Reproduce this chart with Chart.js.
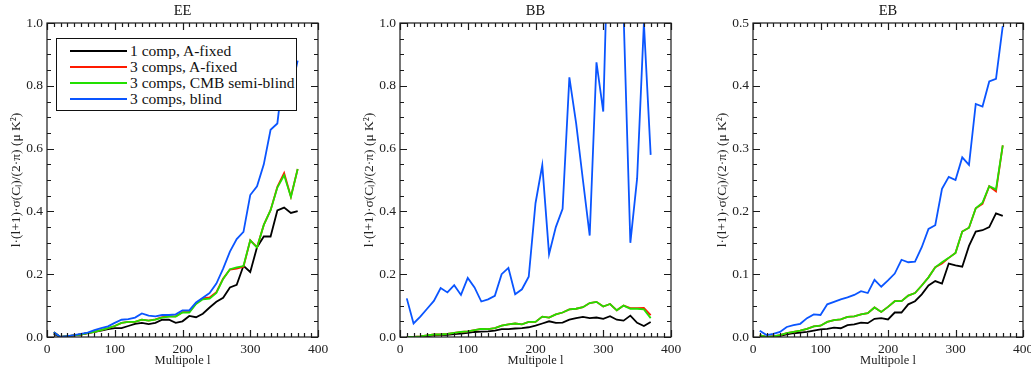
<!DOCTYPE html>
<html>
<head>
<meta charset="utf-8">
<script src="https://cdn.jsdelivr.net/npm/chart.js@4.4.1/dist/chart.umd.min.js"></script>
<style>
  body { margin: 0; background: #fff; }
  #wrap { position: relative; width: 1031px; height: 376px; overflow: hidden; }
  canvas { position: absolute; top: 0; }
  #legend {
    position: absolute; left: 56px; top: 38px; width: 241px; height: 73px;
    border: 1.6px solid #111; box-sizing: border-box; background: #fff;
    font: 15.5px 'Liberation Serif', serif; color: #111; padding-top: 4px;
  }
  #legend .row { height: 16px; line-height: 16px; position: relative; white-space: nowrap; }
  #legend .swatch { position: absolute; left: 13px; top: 7px; width: 57px; height: 2px; }
  #legend .txt { position: absolute; left: 73px; top: 0; }
</style>
</head>
<body>
<div id="wrap">
  <canvas id="eeChart" width="340" height="376" style="left:0px"></canvas>
  <canvas id="bbChart" width="340" height="376" style="left:353px"></canvas>
  <canvas id="ebChart" width="325" height="376" style="left:706px"></canvas>
  <div id="legend"></div>
</div>
<script>
// multipole bins
const multipoles = [10, 20, 30, 40, 50, 60, 70, 80, 90, 100, 110, 120, 130, 140, 150, 160, 170, 180, 190,
    200, 210, 220, 230, 240, 250, 260, 270, 280, 290, 300, 310, 320, 330, 340, 350, 360, 370];

const seriesNames = ['1 comp, A-fixed', '3 comps, A-fixed', '3 comps, CMB semi-blind', '3 comps, blind'];
const seriesColors = ['#000000', '#ff1a00', '#22e000', '#0a55ff'];
const panelTitles = ['EE', 'BB', 'EB'];
const xTickLabels = [0, 100, 200, 300, 400];

// EE
const eeOneFixed = [0.010, 0.000, 0.002, 0.005, 0.008, 0.012, 0.016, 0.020, 0.025, 0.028, 0.028, 0.035, 0.042, 0.045,
    0.041, 0.045, 0.055, 0.055, 0.045, 0.050, 0.067, 0.063, 0.074, 0.094, 0.112, 0.125, 0.158, 0.166, 0.227,
    0.207, 0.286, 0.320, 0.320, 0.403, 0.412, 0.395, 0.401];
const eeThreeFixed = [0.015, 0.000, 0.003, 0.005, 0.008, 0.012, 0.016, 0.022, 0.028, 0.035, 0.045, 0.048, 0.048, 0.055,
    0.052, 0.056, 0.063, 0.066, 0.066, 0.079, 0.080, 0.107, 0.123, 0.126, 0.143, 0.186, 0.215, 0.218, 0.224,
    0.308, 0.286, 0.357, 0.404, 0.478, 0.522, 0.447, 0.535];
const eeSemiBlind = [0.015, 0.000, 0.003, 0.005, 0.008, 0.012, 0.016, 0.022, 0.028, 0.035, 0.045, 0.048, 0.048, 0.055,
    0.052, 0.055, 0.062, 0.065, 0.065, 0.078, 0.078, 0.105, 0.120, 0.122, 0.140, 0.185, 0.216, 0.222, 0.226,
    0.308, 0.285, 0.357, 0.404, 0.476, 0.515, 0.446, 0.535];
const eeBlind = [0.015, 0.000, 0.003, 0.006, 0.010, 0.014, 0.022, 0.028, 0.034, 0.045, 0.055, 0.057, 0.062, 0.075,
    0.068, 0.066, 0.070, 0.070, 0.072, 0.085, 0.085, 0.110, 0.125, 0.140, 0.170, 0.218, 0.272, 0.312, 0.335,
    0.452, 0.480, 0.550, 0.660, 0.680, 0.860, 0.780, 0.880];

// BB
const bbOneFixed = [0.000, 0.000, 0.001, 0.003, 0.005, 0.006, 0.007, 0.009, 0.011, 0.013, 0.016, 0.017, 0.018, 0.020,
    0.025, 0.025, 0.027, 0.028, 0.031, 0.036, 0.043, 0.050, 0.045, 0.046, 0.055, 0.060, 0.064, 0.060, 0.062,
    0.058, 0.066, 0.055, 0.052, 0.068, 0.045, 0.035, 0.048];
const bbThreeFixed = [0.000, 0.000, 0.002, 0.005, 0.008, 0.008, 0.010, 0.013, 0.016, 0.018, 0.022, 0.026, 0.025, 0.028,
    0.036, 0.040, 0.043, 0.040, 0.048, 0.048, 0.065, 0.062, 0.072, 0.078, 0.088, 0.090, 0.095, 0.108, 0.112,
    0.097, 0.105, 0.085, 0.100, 0.092, 0.092, 0.093, 0.070];
const bbSemiBlind = [0.000, 0.000, 0.002, 0.005, 0.008, 0.008, 0.010, 0.013, 0.016, 0.018, 0.022, 0.026, 0.025, 0.028,
    0.036, 0.040, 0.043, 0.040, 0.048, 0.048, 0.065, 0.062, 0.072, 0.078, 0.088, 0.090, 0.095, 0.108, 0.112,
    0.097, 0.105, 0.085, 0.100, 0.090, 0.090, 0.088, 0.060];
const bbBlind = [0.123, 0.043, 0.065, 0.090, 0.115, 0.156, 0.142, 0.165, 0.134, 0.188, 0.158, 0.113, 0.120, 0.131,
    0.200, 0.220, 0.136, 0.152, 0.192, 0.426, 0.547, 0.264, 0.350, 0.408, 0.827, 0.680, 0.500, 0.323, 0.875,
    0.718, 1.500, 1.400, 1.030, 0.300, 0.505, 1.000, 0.580];

// EB
const ebOneFixed = [0.002, 0.000, 0.001, 0.002, 0.004, 0.006, 0.007, 0.008, 0.010, 0.012, 0.013, 0.015, 0.014, 0.019,
    0.020, 0.023, 0.022, 0.029, 0.030, 0.028, 0.039, 0.039, 0.052, 0.057, 0.068, 0.082, 0.089, 0.085, 0.117,
    0.114, 0.112, 0.145, 0.168, 0.170, 0.175, 0.197, 0.193];
const ebThreeFixed = [0.003, 0.000, 0.001, 0.003, 0.006, 0.008, 0.010, 0.013, 0.017, 0.018, 0.024, 0.027, 0.028, 0.032,
    0.033, 0.036, 0.038, 0.047, 0.040, 0.048, 0.057, 0.057, 0.066, 0.070, 0.082, 0.095, 0.111, 0.117, 0.126,
    0.134, 0.168, 0.174, 0.205, 0.212, 0.240, 0.232, 0.305];
const ebSemiBlind = [0.003, 0.000, 0.001, 0.003, 0.006, 0.008, 0.010, 0.013, 0.017, 0.018, 0.024, 0.027, 0.028, 0.032,
    0.033, 0.036, 0.038, 0.047, 0.040, 0.048, 0.057, 0.057, 0.066, 0.070, 0.082, 0.095, 0.111, 0.119, 0.126,
    0.134, 0.168, 0.174, 0.205, 0.214, 0.240, 0.235, 0.305];
const ebBlind = [0.010, 0.003, 0.005, 0.008, 0.016, 0.019, 0.021, 0.030, 0.036, 0.035, 0.052, 0.056, 0.060, 0.063,
    0.067, 0.073, 0.070, 0.091, 0.080, 0.090, 0.101, 0.123, 0.119, 0.120, 0.143, 0.172, 0.178, 0.236, 0.255,
    0.250, 0.286, 0.274, 0.371, 0.367, 0.407, 0.411, 0.495];

const FONT = "'Liberation Serif', 'Times New Roman', serif";
const YTITLE = 'l\u00b7(l+1)\u00b7\u03c3(C\u2097)/(2\u00b7\u03c0) (\u03bc K\u00b2)';

// IDL-style frame with inward ticks on all four sides
const idlFrame = {
    id: 'idlFrame',
    afterDatasetsDraw(chart, args, opts) {
        const { ctx, chartArea: a } = chart;
        const x = chart.scales.x, y = chart.scales.y;
        ctx.save();
        ctx.strokeStyle = '#1a1a1a';
        ctx.lineWidth = 1.2;
        ctx.strokeRect(a.left, a.top, a.right - a.left, a.bottom - a.top);
        ctx.beginPath();
        const isMajor = (v, step) => Math.abs(v / step - Math.round(v / step)) < 1e-6;
        for (let i = 0; x.min + i * opts.xMinor <= x.max + 1e-9; i++) {
            const v = x.min + i * opts.xMinor;
            const px = Math.round(x.getPixelForValue(v)) + 0.5;
            const len = isMajor(v, opts.xMajor) ? 7 : 4;
            ctx.moveTo(px, a.bottom); ctx.lineTo(px, a.bottom - len);
            ctx.moveTo(px, a.top); ctx.lineTo(px, a.top + len);
        }
        for (let i = 0; y.min + i * opts.yMinor <= y.max + 1e-9; i++) {
            const v = y.min + i * opts.yMinor;
            const py = Math.round(y.getPixelForValue(v)) + 0.5;
            const len = isMajor(v, opts.yMajor) ? 7 : 4;
            ctx.moveTo(a.left, py); ctx.lineTo(a.left + len, py);
            ctx.moveTo(a.right, py); ctx.lineTo(a.right - len, py);
        }
        ctx.stroke();
        ctx.restore();
    }
};

function makeDatasets(seriesList) {
    const order = [4, 3, 2, 1];
    return seriesList.map((vals, i) => ({
        label: seriesNames[i],
        data: multipoles.map((l, k) => ({ x: l, y: vals[k] })),
        borderColor: seriesColors[i],
        borderWidth: 1.8,
        pointRadius: 0,
        tension: 0,
        order: order[i]
    }));
}

function load_panel(canvasId, title, seriesList, yMax, yStep, yMinor, rightPad) {
    const ctx = document.getElementById(canvasId).getContext('2d');
    new Chart(ctx, {
        type: 'line',
        data: { datasets: makeDatasets(seriesList) },
        plugins: [idlFrame],
        options: {
            responsive: false,
            animation: false,
            devicePixelRatio: 1,
            layout: { padding: { left: 0, right: rightPad, top: 0, bottom: 0 } },
            plugins: {
                legend: { display: false },
                tooltip: { enabled: false },
                idlFrame: { xMinor: 10, xMajor: 100, yMinor: yMinor, yMajor: yStep }
            },
            scales: {
                x: {
                    type: 'linear', position: 'bottom', min: 0, max: 400,
                    afterBuildTicks: s => { s.ticks = xTickLabels.map(v => ({ value: v })); },
                    ticks: { font: { family: FONT, size: 13.5 }, color: '#222', padding: 4, maxRotation: 0 },
                    grid: { display: false, drawTicks: false },
                    border: { display: false },
                    title: { display: true, text: 'Multipole l', color: '#222',
                        font: { family: FONT, size: 12.5 }, padding: { top: 0, bottom: 8 } },
                    afterFit: s => { s.height = 39; s.paddingLeft = 0; s.paddingRight = 0; }
                },
                xTop: {
                    type: 'linear', position: 'top', min: 0, max: 400,
                    ticks: { display: false },
                    grid: { display: false, drawTicks: false },
                    border: { display: false },
                    title: { display: true, text: title, color: '#111',
                        font: { family: FONT, size: 14.5 }, padding: { top: 2, bottom: 0 } },
                    afterFit: s => { s.height = 23; s.paddingLeft = 0; s.paddingRight = 0; }
                },
                y: {
                    type: 'linear', min: 0, max: yMax,
                    ticks: { stepSize: yStep, font: { family: FONT, size: 13.5 }, color: '#222', padding: 4,
                        callback: v => v.toFixed(1) },
                    grid: { display: false, drawTicks: false },
                    border: { display: false },
                    title: { display: true, text: YTITLE, color: '#222',
                        font: { family: FONT, size: 13.5 }, padding: { top: 8, bottom: 0 } },
                    afterFit: s => { s.width = 47; s.paddingTop = 0; s.paddingBottom = 0; }
                }
            }
        }
    });
}

function build_legend() {
    const box = document.getElementById('legend');
    seriesNames.forEach((name, i) => {
        const row = document.createElement('div');
        row.className = 'row';
        row.innerHTML = '<span class="swatch" style="background:' + seriesColors[i] + '"></span>' +
            '<span class="txt">' + name + '</span>';
        box.appendChild(row);
    });
}

load_panel('eeChart', panelTitles[0], [eeOneFixed, eeThreeFixed, eeSemiBlind, eeBlind], 1.0, 0.2, 0.05, 22);
load_panel('bbChart', panelTitles[1], [bbOneFixed, bbThreeFixed, bbSemiBlind, bbBlind], 1.0, 0.2, 0.05, 22);
load_panel('ebChart', panelTitles[2], [ebOneFixed, ebThreeFixed, ebSemiBlind, ebBlind], 0.5, 0.1, 0.025, 8);
build_legend();
</script>
</body>
</html>
